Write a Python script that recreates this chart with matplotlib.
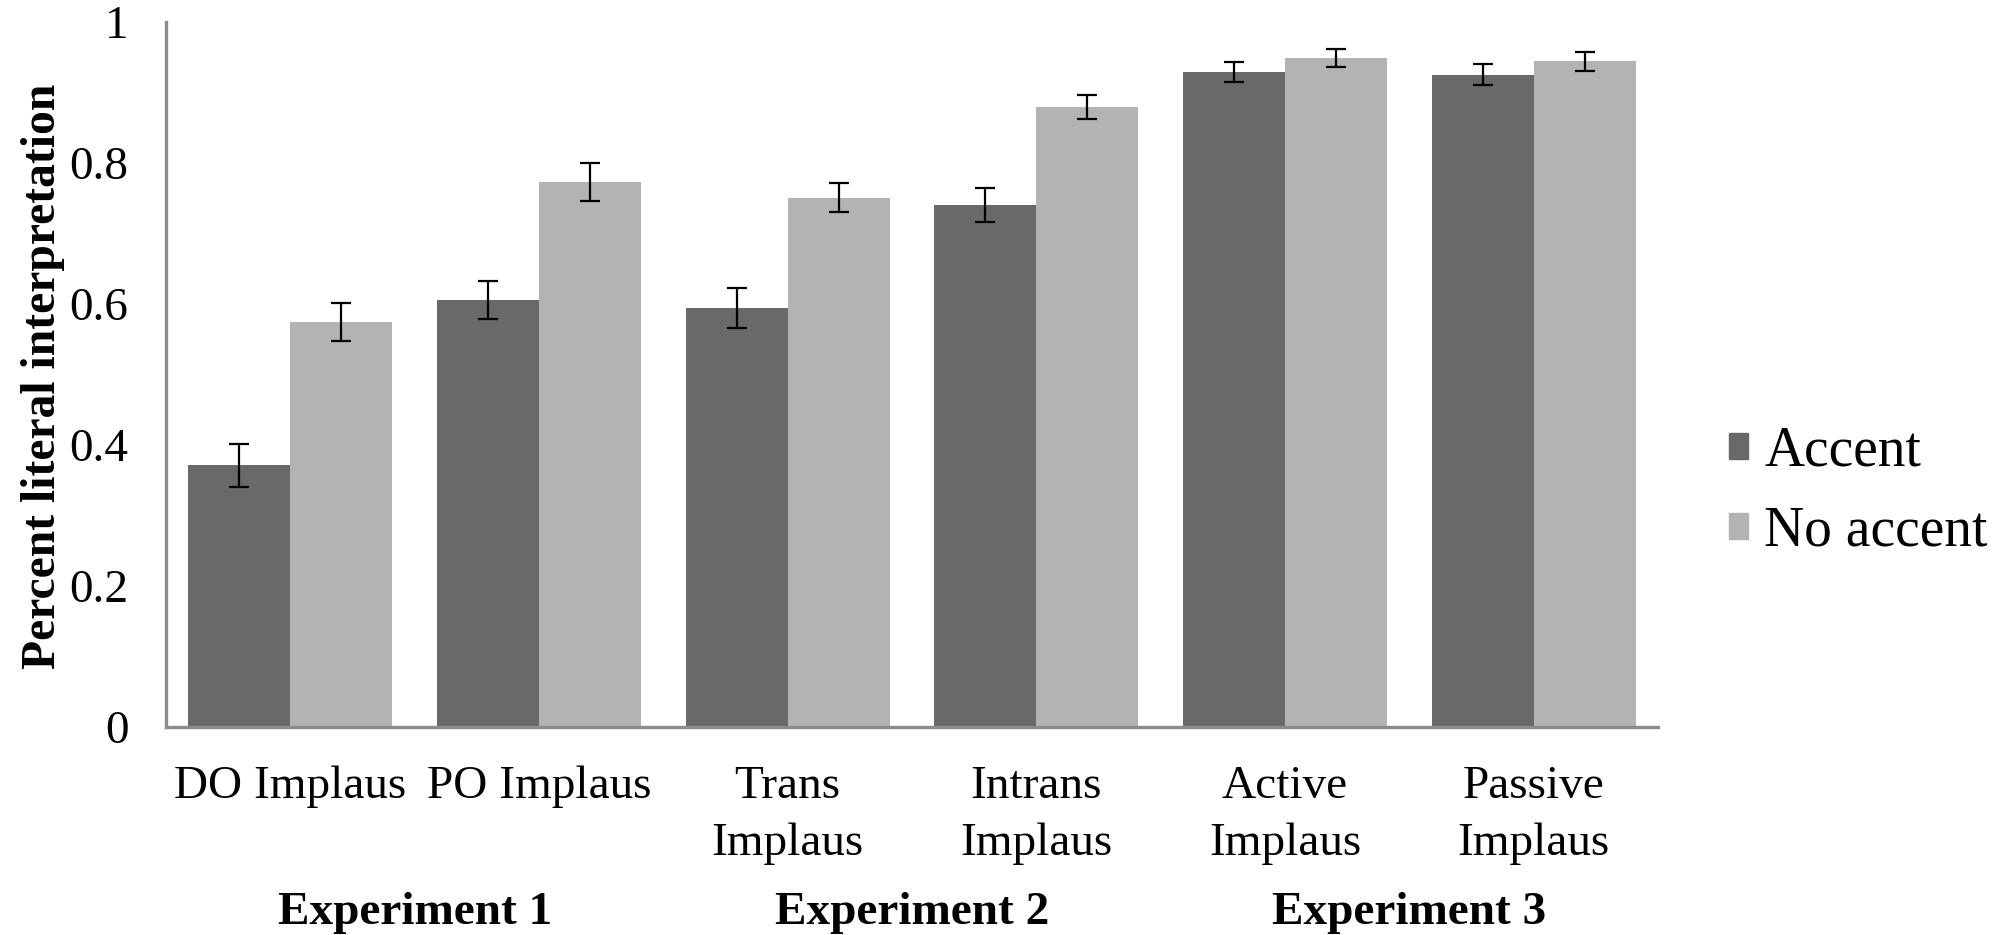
import numpy as np
import matplotlib.pyplot as plt
from matplotlib.patches import Patch
from matplotlib.transforms import blended_transform_factory

# Proportion of literal interpretations per condition
conditions = ['DO Implaus', 'PO Implaus', 'Trans\nImplaus', 'Intrans\nImplaus',
              'Active\nImplaus', 'Passive\nImplaus']
accent = [0.371, 0.605, 0.594, 0.740, 0.929, 0.925]
no_accent = [0.575, 0.773, 0.751, 0.879, 0.949, 0.944]
accent_err = [0.030, 0.027, 0.028, 0.024, 0.014, 0.015]
no_accent_err = [0.027, 0.027, 0.021, 0.017, 0.013, 0.014]
experiments = ['Experiment 1', 'Experiment 2', 'Experiment 3']
y_ticks = [0, 0.2, 0.4, 0.6, 0.8, 1]
y_tick_labels = ['0', '0.2', '0.4', '0.6', '0.8', '1']

plt.rcParams['font.family'] = ['Liberation Serif', 'DejaVu Serif']

fig = plt.figure(figsize=(20, 9.35), dpi=100)
ax = fig.add_axes([0.083, 0.2225, 0.746, 0.754])

x = np.arange(len(conditions))
width = 0.41
err_kw = dict(ecolor='black', elinewidth=1.6, capsize=7, capthick=1.6)

ax.bar(x - width / 2, accent, width, color='#696969', yerr=accent_err,
       error_kw=err_kw, label='Accent')
ax.bar(x + width / 2, no_accent, width, color='#b3b3b3', yerr=no_accent_err,
       error_kw=err_kw, label='No accent')

ax.set_xlim(-0.5, len(conditions) - 0.5)
ax.set_ylim(0, 1)
ax.set_yticks(y_ticks)
ax.set_yticklabels(y_tick_labels)
ax.set_xticks(x)
ax.set_xticklabels(conditions, linespacing=1.42)
ax.tick_params(axis='both', length=0, labelsize=34)
ax.tick_params(axis='y', pad=27)
ax.tick_params(axis='x', pad=28)

for side in ['top', 'right']:
    ax.spines[side].set_visible(False)
for side in ['left', 'bottom']:
    ax.spines[side].set_color('#8c8c8c')
    ax.spines[side].set_linewidth(2.4)

ax.set_ylabel('Percent literal interpretation', fontsize=34.3, fontweight='bold')
ax.yaxis.set_label_coords(-0.068, 0.498)

# Experiment group labels under each pair of conditions
trans = blended_transform_factory(ax.transData, fig.transFigure)
for i, name in enumerate(experiments):
    ax.text(2 * i + 0.5, 0.023, name, transform=trans, ha='center', va='center',
            fontsize=34, fontweight='bold')

handles = [Patch(color='#696969', label='Accent'),
           Patch(color='#b3b3b3', label='No accent')]
fig.legend(handles=handles, loc='center left', bbox_to_anchor=(0.8647, 0.474),
           frameon=False, fontsize=40, handlelength=0.33, handleheight=0.33,
           handletextpad=0.3, labelspacing=0.5, borderpad=0, borderaxespad=0)

fig.savefig('out.png', dpi=100)
